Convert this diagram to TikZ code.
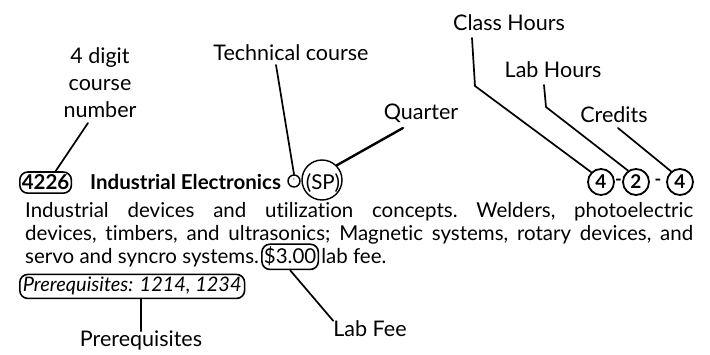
\documentclass[tikz,border=0pt]{standalone}
\usepackage{fontspec}
\setmainfont{Lato}[Ligatures={NoCommon,NoRequired,NoContextual}]
\begin{document}
\begin{tikzpicture}[x=1pt,y=-1pt,
  lbl/.style={font=\fontsize{21.5}{27}\selectfont, inner sep=0pt, align=center},
  body/.style={font=\fontsize{20.5}{22}\selectfont\frenchspacing, inner sep=0pt, anchor=base west},
  rbox/.style={draw, line width=1.6pt, rounded corners=8pt, inner xsep=3pt, inner ysep=3pt},
  cbox/.style={draw, circle, line width=1.8pt, inner sep=0pt, minimum size=26pt, font=\fontsize{19}{20}\selectfont\bfseries},
  conn/.style={line width=1.7pt, line cap=round}]
\useasboundingbox (0,0) rectangle (710,355);
% labels
\node[lbl] (digit) at (100,83) {4 digit\\course\\number};
\node[lbl] (tech) at (291,53) {Technical course};
\node[lbl] (quarter) at (421,113) {Quarter};
\node[lbl] (classh) at (509,23) {Class Hours};
\node[lbl] (labh) at (553,70) {Lab Hours};
\node[lbl] (cred) at (614,115) {Credits};
% title line
\node[rbox, font=\fontsize{20.5}{22}\selectfont\bfseries, anchor=base west, inner xsep=2pt] (num) at (19,190) {4226};
\node[font=\fontsize{20.5}{22}\selectfont\bfseries, inner sep=0pt, anchor=base west] (title) at (90,190) {Industrial Electronics};
\node[draw, circle, line width=1.4pt, inner sep=0pt, minimum size=12pt, font=\tiny] (star) at (294,181) {*};
\node[draw, circle, line width=1.4pt, inner sep=0pt, minimum size=40pt] (spc) at (322,180) {};
\node[font=\fontsize{20.5}{22}\selectfont, inner sep=0pt, anchor=base] (sp) at (323,190) {(SP)};
\node[cbox] (c1) at (601,182) {4};
\node[cbox] (c2) at (636,182) {2};
\node[cbox] (c3) at (680,182) {4};
\node[font=\fontsize{18}{18}\selectfont\bfseries, inner sep=0pt] (d1) at (618.5,182) {-};
\node[font=\fontsize{18}{18}\selectfont\bfseries, inner sep=0pt] (d2) at (658,182) {-};
% body
\node[body] (l1) at (25,218) {\makebox[668pt][s]{Industrial devices and utilization concepts. Welders, photoelectric}};
\node[body] (l2) at (25,241) {\makebox[668pt][s]{devices, timbers, and ultrasonics; Magnetic systems, rotary devices, and}};
\node[body] (l3) at (25,264) {servo and syncro systems.};
\node[rbox, body, inner xsep=2pt, inner ysep=3pt, anchor=base west] (fee) at ([xshift=2pt]l3.base east) {\$3.00};
\node[body] (l3b) at ([xshift=2pt]fee.base east) {lab fee.};
\node[rbox, font=\fontsize{20}{22}\selectfont\itshape, anchor=base west] (pre) at (19,292) {Prerequisites: 1214, 1234};
\node[lbl] (prel) at (141,341) {Prerequisites};
\node[lbl] (feel) at (370,329) {Lab Fee};
% connectors
\coordinate (chb) at (475,86);
\coordinate (lhb) at (546,107);
\draw[conn] (88,123) -- ([xshift=10pt]num.north);
\draw[conn] (276,65) -- (star.north);
\draw[conn, line width=2.4pt] (403,128) -- (spc.45);
\draw[conn] (472,38) -- (chb) -- (c1.135);
\draw[conn] (544,85) -- (lhb) -- (c2.125);
\draw[conn] (618,128) -- (c3.130);
\draw[conn] (fee.south) -- (feel.north west);
\draw[conn] (pre.south -| prel.north) -- (prel.north);
\end{tikzpicture}
\end{document}
